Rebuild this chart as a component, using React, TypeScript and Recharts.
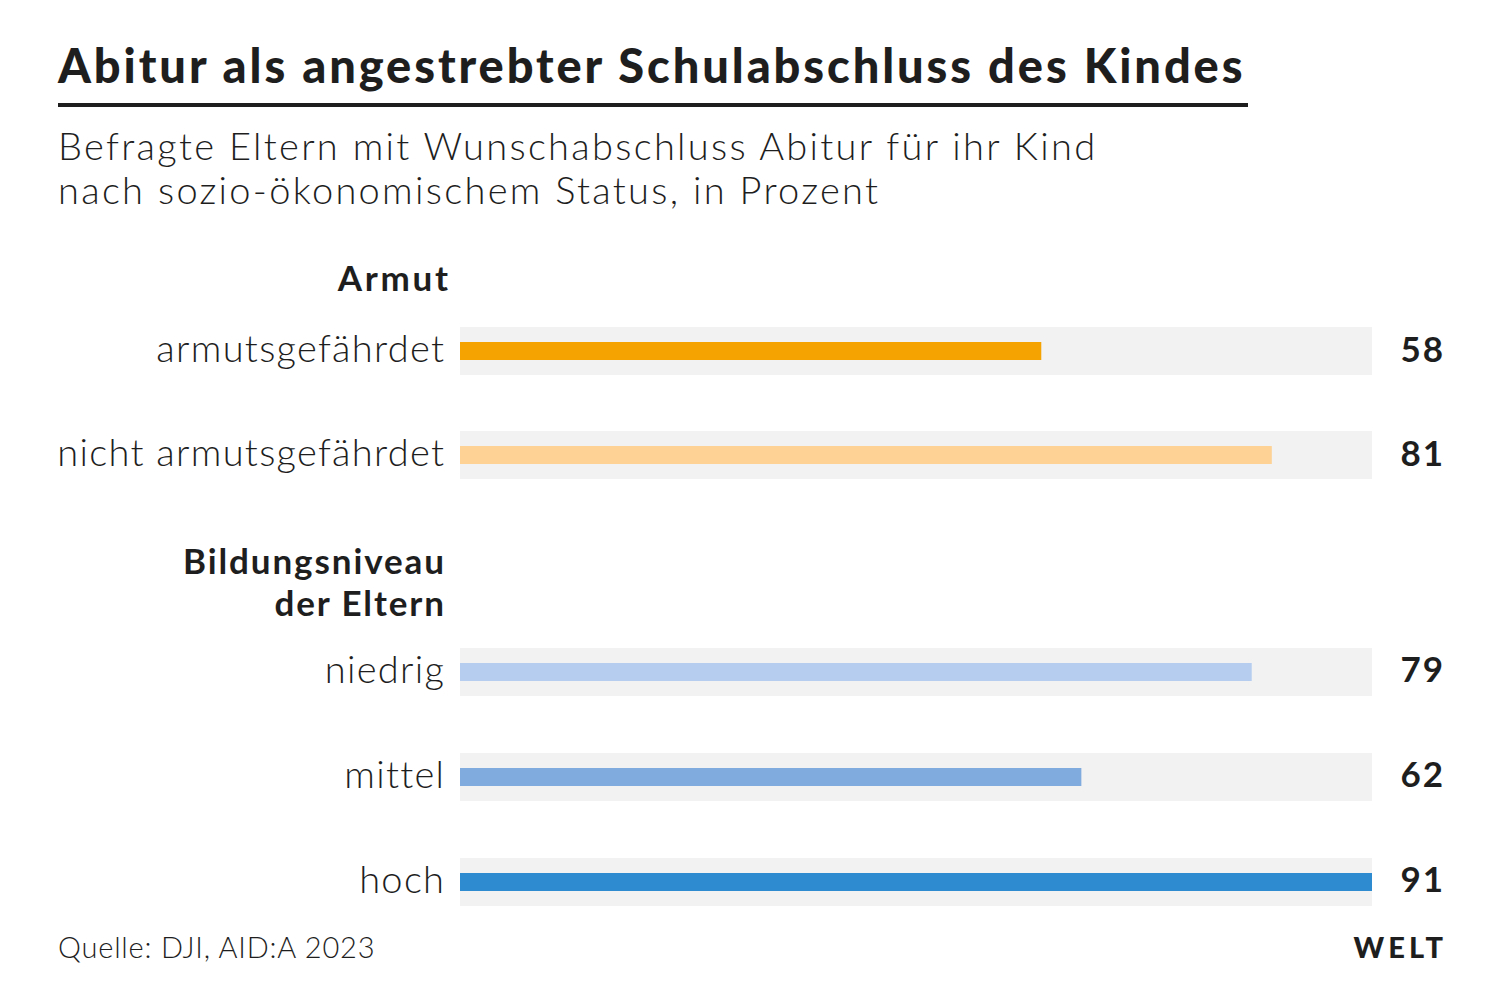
import { BarChart, Bar, XAxis, YAxis, Cell } from 'recharts';

const armutCategories = ['armutsgefährdet', 'nicht armutsgefährdet'];
const armutValues = [58, 81];
const bildungCategories = ['niedrig', 'mittel', 'hoch'];
const bildungValues = [79, 62, 91];
const maxValue = 91;

const armutColors = ['#f5a300', '#fdd294'];
const bildungColors = ['#b7cdef', '#80abdf', '#2e8bd0'];

const FONT = 'Lato, "Noto Sans", sans-serif';
const TEXT = '#1e1e1e';

const armutData = armutCategories.map((name, i) => ({ name, value: armutValues[i] }));
const bildungData = bildungCategories.map((name, i) => ({ name, value: bildungValues[i] }));

// thin coloured bar centred inside the grey background band
const ThinBar = (props: any) => {
  const { x, y, width, height, fill } = props;
  const h = 18;
  return <rect x={x} y={y + (height - h) / 2} width={width} height={h} fill={fill} />;
};

const LabelTick = ({ x, y, payload }: any) => (
  <text
    x={x + 1.3}
    y={y}
    dy="0.3em"
    textAnchor="end"
    fontFamily={FONT}
    fontSize={38}
    fontWeight={300}
    fill={TEXT}
    style={{ letterSpacing: '1.3px' }}
  >
    {payload.value}
  </text>
);

const ValueTick = ({ x, y, payload }: any) => (
  <text
    x={x + 65}
    y={y}
    dy="0.3em"
    textAnchor="end"
    fontFamily={FONT}
    fontSize={35}
    fontWeight={700}
    fill={TEXT}
    style={{ letterSpacing: '2px' }}
  >
    {payload.value}
  </text>
);

const GroupChart = ({ data, colors, height, top }: any) => (
  <div style={{ position: 'absolute', left: 0, top }}>
    <BarChart
      width={1499}
      height={height}
      data={data}
      layout="vertical"
      margin={{ top: 0, right: 0, bottom: 0, left: 0 }}
    >
      <XAxis type="number" domain={[0, maxValue]} hide />
      <YAxis
        yAxisId="left"
        type="category"
        dataKey="name"
        width={460}
        axisLine={false}
        tickLine={false}
        tickMargin={10}
        tick={<LabelTick />}
      />
      <YAxis
        yAxisId="right"
        orientation="right"
        type="category"
        dataKey="value"
        width={127}
        axisLine={false}
        tickLine={false}
        tick={<ValueTick />}
      />
      <Bar
        yAxisId="left"
        dataKey="value"
        barSize={48}
        background={{ fill: '#f2f2f2' }}
        shape={<ThinBar />}
        isAnimationActive={false}
      >
        {data.map((_: any, i: number) => (
          <Cell key={i} fill={colors[i]} />
        ))}
      </Bar>
    </BarChart>
  </div>
);

const headerStyle: any = {
  position: 'absolute',
  fontFamily: FONT,
  fontWeight: 700,
  fontSize: 35,
  color: TEXT,
  textAlign: 'right',
  lineHeight: '42px',
  whiteSpace: 'nowrap',
};

export default function App() {
  return (
    <div
      style={{
        position: 'absolute',
        left: 0,
        top: 0,
        width: 1499,
        height: 999,
        background: '#fff',
        fontFamily: FONT,
        color: TEXT,
        overflow: 'hidden',
      }}
    >
      <div
        style={{
          position: 'absolute',
          left: 58,
          top: 36,
          fontSize: 47,
          fontWeight: 900,
          lineHeight: '58px',
          letterSpacing: '2.9px',
          whiteSpace: 'nowrap',
        }}
      >
        Abitur als angestrebter Schulabschluss des Kindes
      </div>
      <div style={{ position: 'absolute', left: 58, top: 103, width: 1190, height: 4, background: '#1e1e1e' }} />
      <div
        style={{
          position: 'absolute',
          left: 58,
          top: 123,
          fontSize: 38,
          fontWeight: 300,
          lineHeight: '44px',
          letterSpacing: '2.3px',
          whiteSpace: 'nowrap',
        }}
      >
        Befragte Eltern mit Wunschabschluss Abitur für ihr Kind
        <br />
        nach sozio-ökonomischem Status, in Prozent
      </div>

      <div style={{ ...headerStyle, right: 1499 - 448 - 2.7, top: 256, letterSpacing: '2.7px' }}>Armut</div>
      <GroupChart data={armutData} colors={armutColors} height={208} top={299} />

      <div style={{ ...headerStyle, right: 1499 - 444 - 1.9, top: 539, letterSpacing: '1.9px' }}>
        Bildungsniveau
        <br />
        der Eltern
      </div>
      <GroupChart data={bildungData} colors={bildungColors} height={315} top={618.5} />

      <div
        style={{
          position: 'absolute',
          left: 58,
          top: 929,
          fontSize: 29,
          fontWeight: 300,
          lineHeight: '36px',
          letterSpacing: '0.8px',
          whiteSpace: 'nowrap',
        }}
      >
        Quelle: DJI, AID:A 2023
      </div>
      <div
        style={{
          position: 'absolute',
          right: 1499 - 1443 - 4,
          top: 929,
          fontSize: 29,
          fontWeight: 900,
          lineHeight: '36px',
          letterSpacing: '4px',
        }}
      >
        WELT
      </div>
    </div>
  );
}
